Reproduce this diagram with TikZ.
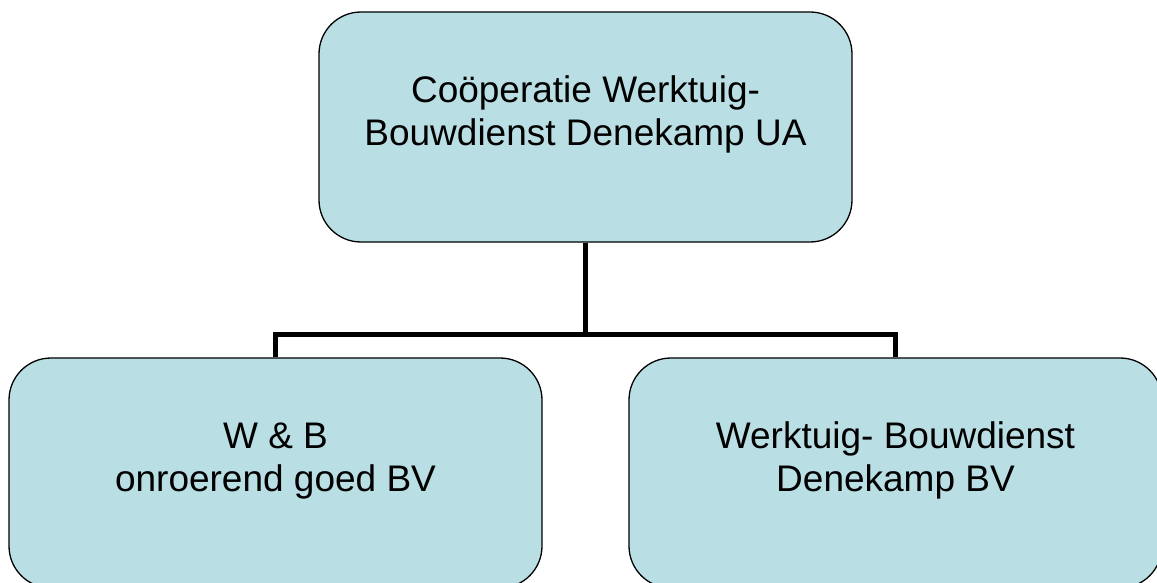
\documentclass[tikz,border=0pt]{standalone}
\usepackage{fontspec}
\setmainfont{Liberation Sans}
\usetikzlibrary{positioning}
\definecolor{BoxBlue}{RGB}{185,223,228}

\begin{document}
\begin{tikzpicture}[x=1pt, y=-1pt,
    unit/.style={rectangle, draw=black, line width=1.3pt, fill=BoxBlue,
                 rounded corners=42pt,
                 minimum width=533pt, minimum height=230pt,
                 align=center, text height=37pt, text depth=0pt,
                 font=\fontsize{37}{43}\selectfont},
    link/.style={draw=black, line width=5pt},
]
    \useasboundingbox (0,0) rectangle (1157,583);
    \clip (0,0) rectangle (1157,583);
    \coordinate (fork) at (585.5,334);
    \node[unit] (coop) at (585.5,127) {Coöperatie Werktuig-\\Bouwdienst Denekamp UA};
    \node[unit] (wb) at (275.5,473) {W \& B\\onroerend goed BV};
    \node[unit] (wbd) at (895.5,473) {Werktuig- Bouwdienst\\Denekamp BV};
    % tree lines
    \draw[link] (coop.south) -- (fork);
    \draw[link] (wb.north) |- (fork) -| (wbd.north);
\end{tikzpicture}
\end{document}
